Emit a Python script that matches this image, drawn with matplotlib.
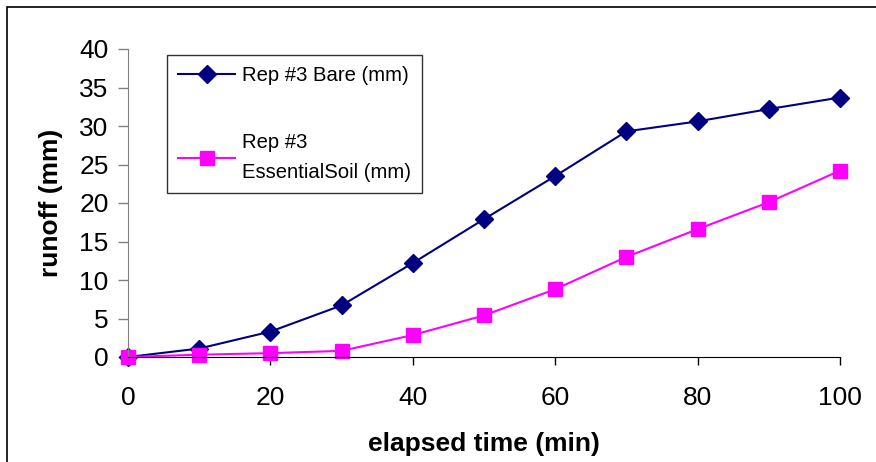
#!/usr/bin/env python3
# Runoff over elapsed time, two treatments

import matplotlib
matplotlib.use("Agg")
import matplotlib.pyplot as plt
from matplotlib.patches import Rectangle

# data
elapsedMin = [0, 10, 20, 30, 40, 50, 60, 70, 80, 90, 100]
bareRunoff = [0, 1.1, 3.3, 6.7, 12.2, 17.9, 23.5, 29.3, 30.6, 32.2, 33.7]
soilRunoff = [0, 0.3, 0.5, 0.8, 2.85, 5.4, 8.8, 13.0, 16.6, 20.1, 24.2]
bareLabel = "Rep #3 Bare (mm)"
soilLabel = "Rep #3\nEssentialSoil (mm)"
xTicks = [0, 20, 40, 60, 80, 100]
yTicks = [0, 5, 10, 15, 20, 25, 30, 35, 40]

plt.rcParams["font.family"] = ["Liberation Sans", "DejaVu Sans"]

fig = plt.figure(figsize=(8.76, 4.62), dpi=100)
W, H = 876, 462

# outer chart frame
fig.patches.append(Rectangle((7 / W, -0.05), 1.0, 1 - 7 / H + 0.05,
                             transform=fig.transFigure, fill=False,
                             edgecolor="black", linewidth=1.2))

ax = fig.add_axes([128 / W, 1 - 357 / H, (840 - 128) / W, (357 - 49) / H])

ax.plot(elapsedMin, bareRunoff, color="#000080", marker="D", markersize=9,
        linewidth=1.5, label=bareLabel)
ax.plot(elapsedMin, soilRunoff, color="#ff00ff", marker="s", markersize=9.5,
        linewidth=1.5, label=soilLabel)

ax.set_xlim(0, 100)
ax.set_ylim(0, 40)
ax.set_xticks(xTicks)
ax.set_yticks(yTicks)
ax.tick_params(axis="both", labelsize=19, width=1, direction="out")
ax.tick_params(axis="y", colors="#808080", labelcolor="black", length=7, pad=7)
ax.tick_params(axis="x", length=6, pad=15)

ax.spines["top"].set_visible(False)
ax.spines["right"].set_visible(False)
ax.spines["left"].set_color("#808080")
ax.spines["bottom"].set_color("black")
for s in ax.spines.values():
    s.set_clip_on(False)
for ln in ax.lines:
    ln.set_clip_on(False)

ax.set_xlabel("elapsed time (min)", fontsize=19, fontweight="bold", labelpad=16)
ax.set_ylabel("runoff (mm)", fontsize=19, fontweight="bold", labelpad=12)

leg = ax.legend(loc="upper left", bbox_to_anchor=((167 - 128) / (840 - 128), 1 - (55 - 49) / 308),
                fontsize=14.6, frameon=True, fancybox=False, edgecolor="black",
                labelspacing=2.35, handlelength=2.8, handletextpad=0.35,
                borderpad=0.55, borderaxespad=0)
leg.get_frame().set_linewidth(1.0)
for t in leg.get_texts():
    t.set_linespacing(1.75)

fig.savefig("out.png", dpi=100)
